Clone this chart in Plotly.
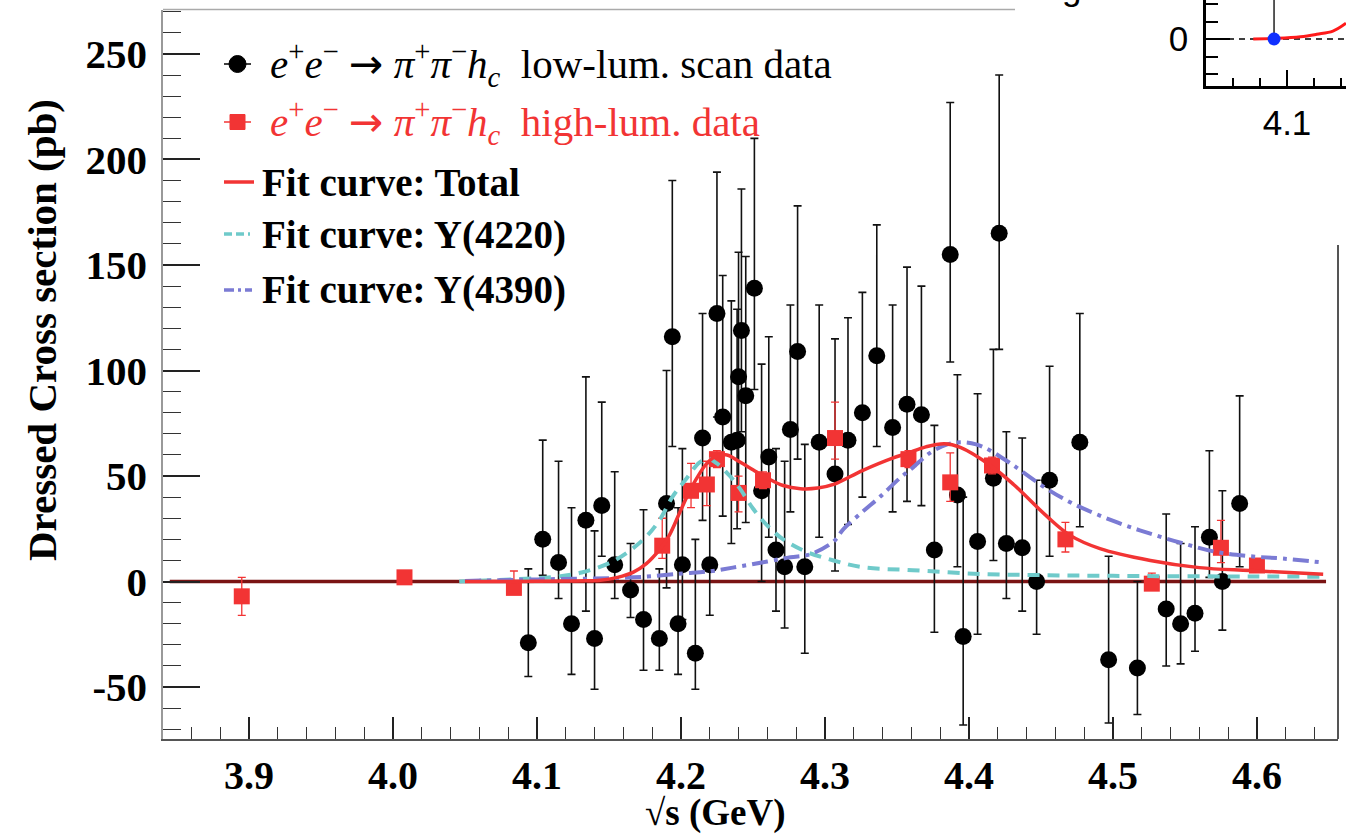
import plotly.graph_objects as go

W, H = 1346, 835

# ---------------- data ----------------
black_x = [4.094, 4.104, 4.115, 4.124, 4.134, 4.140, 4.145, 4.154, 4.165, 4.174,
           4.185, 4.190, 4.194, 4.198, 4.201, 4.210, 4.215, 4.220, 4.225, 4.229,
           4.235, 4.239, 4.240, 4.242, 4.245, 4.251, 4.256, 4.261, 4.266, 4.272,
           4.276, 4.281, 4.286, 4.296, 4.307, 4.316, 4.326, 4.336, 4.347, 4.357,
           4.367, 4.376, 4.387, 4.392, 4.396, 4.406, 4.417, 4.421, 4.426, 4.437,
           4.447, 4.456, 4.477, 4.497, 4.517, 4.537, 4.547, 4.557, 4.567, 4.576,
           4.588]
black_y = [-29, 20, 9, -20, 29, -27, 36, 8, -4, -18,
           -27, 37, 116, -20, 8, -34, 68, 8, 127, 78,
           66, 67, 97, 119, 88, 139, 43, 59, 15, 7,
           72, 109, 7, 66, 51, 67, 80, 107, 73, 84,
           79, 15, 155, 41, -26, 19, 49, 165, 18, 16,
           0, 48, 66, -37, -41, -13, -20, -15, 21, 0,
           37]
black_up = [35, 47, 48, 55, 68, 51, 49, 44, 22, 52,
            33, 63, 74, 55, 55, 54, 59, 48, 67, 67,
            67, 62, 59, 67, 66, 71, 60, 57, 48, 50,
            59, 69, 58, 65, 64, 58, 57, 62, 58, 65,
            61, 59, 72, 57, 66, 70, 61, 75, 53, 52,
            48, 54, 61, 49, 41, 45, 38, 41, 41, 43,
            51]
black_dn = [16, 17, 17, 24, 43, 24, 24, 16, 13, 24,
            15, 40, 52, 24, 26, 17, 39, 24, 49, 47,
            48, 42, 57, 48, 60, 48, 43, 38, 29, 29,
            39, 51, 41, 45, 46, 40, 40, 43, 40, 46,
            43, 39, 51, 34, 42, 44, 39, 55, 26, 30,
            25, 36, 40, 30, 22, 27, 19, 18, 19, 23,
            30]

red_x = [3.895, 4.008, 4.084, 4.187, 4.207, 4.218, 4.225, 4.240, 4.257, 4.307,
         4.358, 4.387, 4.416, 4.467, 4.527, 4.575, 4.600]
red_y = [-7, 2, -3, 17, 43, 46, 58, 42, 48, 68, 58, 47, 55, 20, -1, 16, 7.6]
red_up = [9, 3, 8, 13, 13, 11, 4, 8, 4, 17, 4, 14, 4, 8, 5, 13, 3]
red_dn = [9, 3, 3, 6, 8, 10, 4, 9, 4, 10, 4, 9, 4, 6, 3, 7, 3]

total_x = [4.050, 4.100, 4.128, 4.144, 4.156, 4.167, 4.176, 4.185, 4.192, 4.199,
           4.204, 4.211, 4.218, 4.225, 4.232, 4.241, 4.250, 4.260, 4.271, 4.283,
           4.295, 4.306, 4.326, 4.347, 4.357, 4.370, 4.383, 4.394, 4.415, 4.431,
           4.454, 4.470, 4.491, 4.526, 4.560, 4.595, 4.646]
total_y = [0, 0.1, 0.3, 0.6, 2, 4.5, 8.5, 15, 22, 32.5,
           40, 49, 56, 59.5, 60, 56.6, 53, 49, 45.5, 44,
           44.3, 46, 52.6, 58.5, 60.7, 63.8, 65.3, 63.6, 55, 46,
           31, 22, 15.6, 10, 6.6, 5.2, 3.5]

y4220_x = [4.046, 4.097, 4.112, 4.131, 4.154, 4.174, 4.185, 4.194, 4.204, 4.213,
           4.219, 4.225, 4.234, 4.241, 4.250, 4.260, 4.271, 4.286, 4.306, 4.326,
           4.361, 4.408, 4.454, 4.500, 4.550, 4.600, 4.646]
y4220_y = [0, 1.5, 2.2, 4.3, 10, 20, 29, 40, 49, 56.5,
           58, 56, 50, 44, 34.6, 26.5, 20, 14.4, 10, 6.8,
           5.4, 3.6, 3.0, 2.7, 2.5, 2.4, 2.3]

y4390_x = [4.050, 4.100, 4.167, 4.201, 4.222, 4.236, 4.260, 4.276, 4.290, 4.306,
           4.313, 4.326, 4.338, 4.352, 4.361, 4.373, 4.385, 4.395, 4.405, 4.415,
           4.431, 4.454, 4.472, 4.503, 4.526, 4.549, 4.572, 4.595, 4.618, 4.646]
y4390_y = [0.3, 1, 2, 3.8, 5, 6.6, 9.5, 11.5, 13, 19,
           25, 33, 40, 49, 54, 61, 65, 66, 65, 62,
           55, 44, 37, 28, 22.7, 18, 14, 12, 10.9, 9]

zero_x = [3.845, 4.648]
zero_y = [0, 0]

y_tickvals = [-50, 0, 50, 100, 150, 200, 250]
y_ticktext = ['-50', '0', '50', '100', '150', '200', '250']
x_tickvals = [3.9, 4.0, 4.1, 4.2, 4.3, 4.4, 4.5, 4.6]
x_ticktext = ['3.9', '4.0', '4.1', '4.2', '4.3', '4.4', '4.5', '4.6']

# inset fragment (upper right corner)
inset_line_x = [4.04, 4.1437]
inset_line_y = [0, 0]
inset_curve_x = [4.075, 4.093, 4.110, 4.122, 4.134, 4.1437]
inset_curve_y = [0, 0.04, 0.13, 0.27, 0.45, 0.9]
inset_pt_x = [4.0904]
inset_pt_y = [0]

# ---------------- helpers ----------------
def px(p):
    return p / W


def py(p):
    return 1 - p / H


RED = '#f23434'
CYAN = '#6fcaca'
BLUE = '#7b7bd4'
SERIF = 'Liberation Serif'
SANS = 'Liberation Sans'

fig = go.Figure()

fig.add_trace(go.Scatter(x=zero_x, y=zero_y, mode='lines',
                         line=dict(color='#7a1414', width=3.5),
                         xaxis='x', yaxis='y', hoverinfo='skip'))
fig.add_trace(go.Scatter(x=black_x, y=black_y, mode='markers',
                         marker=dict(symbol='circle', size=17, color='black'),
                         error_y=dict(type='data', symmetric=False, array=black_up,
                                      arrayminus=black_dn, color='#111', thickness=1.6, width=4),
                         xaxis='x', yaxis='y'))
fig.add_trace(go.Scatter(x=red_x, y=red_y, mode='markers',
                         marker=dict(symbol='square', size=16, color=RED),
                         error_y=dict(type='data', symmetric=False, array=red_up,
                                      arrayminus=red_dn, color=RED, thickness=1.3, width=4),
                         xaxis='x', yaxis='y'))
fig.add_trace(go.Scatter(x=y4220_x, y=y4220_y, mode='lines',
                         line=dict(color=CYAN, width=4, dash='12px,8px', shape='spline'),
                         xaxis='x', yaxis='y'))
fig.add_trace(go.Scatter(x=y4390_x, y=y4390_y, mode='lines',
                         line=dict(color=BLUE, width=4, dash='16px,6px,4px,6px', shape='spline'),
                         xaxis='x', yaxis='y'))
fig.add_trace(go.Scatter(x=total_x, y=total_y, mode='lines',
                         line=dict(color=RED, width=3.5, shape='spline'),
                         xaxis='x', yaxis='y'))

# inset traces
fig.add_trace(go.Scatter(x=inset_line_x, y=inset_line_y, mode='lines',
                         line=dict(color='black', width=1.5, dash='6px,5px'),
                         xaxis='x2', yaxis='y2'))
fig.add_trace(go.Scatter(x=inset_curve_x, y=inset_curve_y, mode='lines',
                         line=dict(color='#ff1a1a', width=3, shape='spline'),
                         xaxis='x2', yaxis='y2'))
fig.add_trace(go.Scatter(x=inset_pt_x, y=inset_pt_y, mode='markers',
                         marker=dict(size=13, color='#1030ff'),
                         error_y=dict(type='data', symmetric=False, array=[5], arrayminus=[0],
                                      color='#222', thickness=1.5, width=0),
                         xaxis='x2', yaxis='y2'))

tickfont_main = dict(family=SERIF, size=41, color='black', weight='bold')

fig.update_layout(
    width=W, height=H,
    margin=dict(l=0, r=0, t=0, b=0),
    paper_bgcolor='white', plot_bgcolor='white',
    showlegend=False,
    xaxis=dict(domain=[px(163), px(1338)], range=[3.8403, 4.6563], anchor='y',
               tickmode='array', tickvals=x_tickvals, ticktext=x_ticktext,
               ticks='inside', ticklen=22, tickwidth=1.5, tickcolor='#222',
               minor=dict(tick0=3.8, dtick=0.02, ticks='inside', ticklen=12,
                          tickwidth=1.2, tickcolor='#333'),
               showline=True, linecolor='#555', linewidth=2,
               showgrid=False, zeroline=False,
               tickfont=dict(family=SERIF, size=40, color='black', weight='bold'),
               ticklabelstandoff=0),
    yaxis=dict(domain=[py(739), py(9.6)], range=[-74.6, 271], anchor='x',
               tickmode='array', tickvals=y_tickvals, ticktext=y_ticktext,
               ticks='inside', ticklen=37, tickwidth=1.5, tickcolor='#222',
               minor=dict(tick0=0, dtick=10, ticks='inside', ticklen=18,
                          tickwidth=1.2, tickcolor='#333'),
               showline=True, linecolor='#999', linewidth=1.5,
               showgrid=False, zeroline=False, tickfont=tickfont_main,
               ticklabelstandoff=6),
    xaxis2=dict(domain=[px(1206), 1.0], range=[4.04, 4.1437], anchor='y2',
                tickmode='linear', tick0=4.0, dtick=0.1, tickformat='.1f',
                ticks='inside', ticklen=16, tickwidth=2, tickcolor='black',
                minor=dict(tick0=4.0, dtick=0.02, ticks='inside', ticklen=8,
                           tickwidth=2, tickcolor='black'),
                showline=True, linecolor='black', linewidth=2.5,
                showgrid=False, zeroline=False,
                tickfont=dict(family=SANS, size=35, color='black'),
                ticklabelstandoff=4),
    yaxis2=dict(domain=[py(86), 1.0], range=[-2.686, 2.229], anchor='x2',
                tickmode='linear', tick0=0, dtick=10,
                ticks='inside', ticklen=24, tickwidth=2, tickcolor='black',
                minor=dict(tick0=0, dtick=1, ticks='inside', ticklen=12,
                           tickwidth=2, tickcolor='black'),
                showline=True, linecolor='black', linewidth=2.5,
                showgrid=False, zeroline=False,
                tickfont=dict(family=SANS, size=35, color='black'),
                ticklabelstandoff=8),
)

shapes = [
    # partial frame of the main plot
    dict(type='line', xref='paper', yref='paper', x0=px(163), x1=px(1015), y0=py(9.6), y1=py(9.6),
         line=dict(color='#aaaaaa', width=1.5)),
    dict(type='line', xref='paper', yref='paper', x0=px(1338), x1=px(1338), y0=py(245), y1=py(739),
         line=dict(color='#555555', width=2)),
    # legend keys
    dict(type='line', xref='paper', yref='paper', x0=px(224), x1=px(251), y0=py(64), y1=py(64),
         line=dict(color='black', width=1.5)),
    dict(type='circle', xref='paper', yref='paper', x0=px(229), x1=px(246), y0=py(72.5), y1=py(55.5),
         fillcolor='black', line=dict(color='black', width=1)),
    dict(type='line', xref='paper', yref='paper', x0=px(224), x1=px(251), y0=py(122), y1=py(122),
         line=dict(color=RED, width=1.5)),
    dict(type='rect', xref='paper', yref='paper', x0=px(230), x1=px(245), y0=py(129.5), y1=py(114.5),
         fillcolor=RED, line=dict(color=RED, width=1)),
    dict(type='line', xref='paper', yref='paper', x0=px(224), x1=px(254), y0=py(182), y1=py(182),
         line=dict(color=RED, width=3.5)),
    dict(type='line', xref='paper', yref='paper', x0=px(224), x1=px(250), y0=py(234), y1=py(234),
         line=dict(color=CYAN, width=3.5, dash='8px,4px')),
    dict(type='line', xref='paper', yref='paper', x0=px(224), x1=px(252), y0=py(290), y1=py(290),
         line=dict(color=BLUE, width=3.5, dash='10px,4px,3px,4px')),
]
fig.update_layout(shapes=shapes)

arrow = '<span style="font-family:DejaVu Sans">\u2192</span>'
proc = ('<i>e</i><sup>+</sup><i>e</i><sup>\u2212</sup> ' + arrow + ' '
        '<i>\u03c0</i><sup>+</sup><i>\u03c0</i><sup>\u2212</sup><i>h</i><sub><i>c</i></sub>')

annotations = [
    dict(text=proc + '&nbsp; low-lum. scan data', x=px(268), y=py(64), xanchor='left', yanchor='middle',
         font=dict(family=SERIF, size=41, color='black')),
    dict(text=proc + '&nbsp; high-lum. data', x=px(268), y=py(122), xanchor='left', yanchor='middle',
         font=dict(family=SERIF, size=41, color=RED)),
    dict(text='Fit curve: Total', x=px(260), y=py(182), xanchor='left', yanchor='middle',
         font=dict(family=SERIF, size=39, color='black', weight='bold')),
    dict(text='Fit curve: Y(4220)', x=px(260), y=py(235), xanchor='left', yanchor='middle',
         font=dict(family=SERIF, size=39, color='black', weight='bold')),
    dict(text='Fit curve: Y(4390)', x=px(260), y=py(290), xanchor='left', yanchor='middle',
         font=dict(family=SERIF, size=39, color='black', weight='bold')),
    dict(text='Dressed Cross section (pb)', x=px(42), y=py(330), textangle=-90,
         xanchor='center', yanchor='middle',
         font=dict(family=SERIF, size=41, color='black', weight='bold')),
    dict(text='\u221as (GeV)', x=px(715), y=py(813), xanchor='center', yanchor='middle',
         font=dict(family=SERIF, size=37, color='black', weight='bold')),
    dict(text='g', x=px(1071), y=py(9), xanchor='center', yanchor='bottom',
         font=dict(family=SANS, size=35, color='black')),
]
for a in annotations:
    a.update(xref='paper', yref='paper', showarrow=False)
fig.update_layout(annotations=annotations)

fig.write_html('out.html')
